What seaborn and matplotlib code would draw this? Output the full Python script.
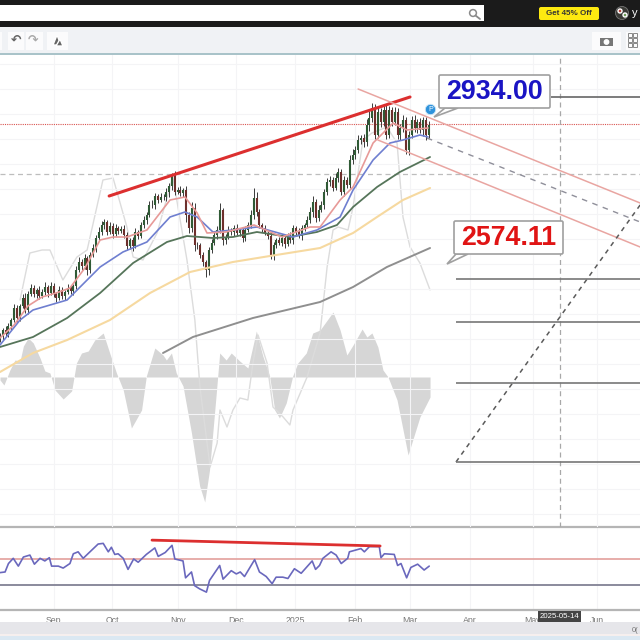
import matplotlib
matplotlib.use('Agg')
import matplotlib.pyplot as plt
from matplotlib.patches import Rectangle, Circle, FancyBboxPatch, Polygon
import seaborn as sns
import numpy as np
import pandas as pd

sns.set_theme(style='whitegrid', rc={'grid.color': '#f4f4f6', 'grid.linewidth': 0.8})
plt.rcParams['font.family'] = ['Liberation Sans', 'DejaVu Sans']

# daily closes, one per session
closes = [2456,2468,2460,2476,2488,2512,2492,2516,2532,2508,
          2540,2552,2540,2548,2536,2544,2554,2542,2556,2540,
          2532,2548,2536,2544,2552,2546,2556,2588,2604,2596,
          2612,2588,2618,2632,2652,2664,2678,2684,2664,2676,
          2660,2672,2666,2670,2658,2636,2648,2636,2664,2656,
          2678,2688,2698,2718,2718,2736,2728,2734,2734,2744,
          2756,2776,2744,2748,2742,2748,2698,2672,2712,2638,
          2638,2618,2604,2588,2628,2642,2658,2668,2708,2648,
          2654,2668,2664,2672,2662,2668,2652,2668,2678,2698,
          2732,2704,2678,2672,2662,2656,2616,2638,2648,2642,
          2652,2640,2656,2648,2672,2664,2656,2672,2678,2688,
          2704,2724,2692,2708,2718,2744,2764,2768,2752,2772,
          2784,2744,2768,2758,2808,2818,2828,2848,2852,2844,
          2878,2892,2912,2858,2904,2884,2908,2858,2908,2884,
          2904,2858,2872,2888,2828,2858,2888,2872,2884,2868,
          2888,2858,2878]
wick_up = [6,4,8,6,4,8,6,4,8,10,6,8,6,4,8,6,10,4,8,6,
           4,8,6,4,8,6,4,8,10,6,8,4,6,8,6,10,8,6,4,8,
           6,8,4,6,8,6,4,6,8,4,6,8,6,8,10,6,4,8,6,8,
           6,6,10,6,8,4,8,6,12,10,6,4,6,4,6,8,6,8,14,4,
           6,8,4,6,8,4,6,8,6,10,20,12,6,4,6,4,8,6,4,6,
           8,4,6,8,6,4,8,6,4,8,10,12,6,10,8,6,8,8,6,10,
           8,6,8,6,10,12,8,10,6,8,12,14,10,8,10,8,10,12,8,6,
           10,8,8,10,6,8,8,10,6,8,6,6,8]
wick_dn = [6,8,4,6,8,4,8,6,4,6,8,4,6,8,6,4,6,8,4,6,
           8,4,6,8,4,6,8,6,4,8,6,10,6,4,8,4,6,8,6,4,
           8,4,6,4,6,8,6,10,4,6,4,6,8,4,6,8,6,4,6,8,
           10,8,6,4,6,8,14,10,8,12,8,6,8,14,10,6,4,8,6,10,
           8,4,6,8,4,6,8,6,4,6,8,8,6,8,4,6,6,8,6,4,
           6,8,4,6,8,6,4,8,6,4,6,10,8,6,4,8,6,8,6,4,
           8,6,8,6,6,8,8,6,8,10,8,12,8,8,6,10,8,8,6,8,
           6,8,10,8,8,10,6,8,10,6,12,10,6]

red_x = [0,5,9.9,14.9,19.9,24.8,30.1,35.5,40.1,45,52.1,60.3,65.6,69.9,73.4,80.1,90.1,100,109.9,113.5,120.6,125.2,132.3,139.4,144.3,151.8]
red_y = [2452,2478,2516,2534,2542,2552,2592,2648,2654,2654,2668,2728,2734,2702,2662,2664,2678,2654,2674,2674,2728,2754,2842,2882,2868,2872]
blue_x = [0,7.1,11.7,23.8,35.5,43.6,52.1,60.3,65.6,69.9,75.5,82.6,91.1,103.9,112.4,120.6,125.2,132.3,138.3,142.9,148.9,151.8]
blue_y = [2438,2488,2508,2528,2594,2624,2644,2694,2704,2694,2664,2668,2674,2654,2668,2694,2748,2808,2842,2848,2858,2854]
green_x = [0,11.7,23.8,35.5,47.2,59.2,66.3,75.5,82.6,91.1,102.8,112.4,119.5,125.2,133.7,141.8,152.5]
green_y = [2434,2454,2492,2542,2602,2644,2656,2652,2654,2664,2654,2664,2678,2714,2754,2784,2814]
orange_x = [0,11.7,23.8,39,53.2,67.4,82.6,95.7,113.5,125.2,133.7,142.9,152.5]
orange_y = [2384,2422,2448,2488,2542,2584,2604,2616,2632,2662,2694,2728,2752]
gray_x = [57.8,68.4,89.7,113.5,125.2,137.2,152.5]
gray_y = [2422,2454,2492,2524,2554,2594,2632]

# oscillator on its own scale
osc_x = [7.1,10.6,14.9,17.7,22.3,27.3,30.9,36.5,40.1,45,47.2,50.7,55.7,61.3,66.3,69.1,70.9,74.5,77,78,80.5,82.6,85.1,87.9,89.7,91.5,94.7,96.8,100.4,102.8,103.9,108.9,113.5,116,118.1,119.9,123.4,125.2,128.7,131.9,137.2,140.8,142.9,145.4,148.9,152.5]
osc_y = [77,124,127,127,97,120,127,197,199,150,120,117,144,200,117,57,-10,-90,-66,-33,-50,-33,-21,-23,14,42,14,-30,-40,-48,-33,0,44,110,147,150,147,170,237,244,250,234,160,130,114,87]
hist_x = [0,1.4,3.5,5.3,7.1,8.3,10,11.8,14.2,15.9,17.7,19.5,22.4,25.4,27.1,28.9,31.3,33.6,36.6,38.9,41.3,43.7,46.6,50.2,51.9,54.9,57.8,59,60.8,62.5,64.9,67.9,70.8,72.6,74.3,76.7,77.9,80.2,82,85,87.9,90.9,93.2,95.6,97.4,99.1,101.5,103.8,105.6,108.6,110.9,113.5,118.1,120.6,123,125.2,128.4,130.1,131.9,134,135.8,137.6,140.8,144.7,148.9,152.5]
hist_y = [-3,-8,7,17,16,31,39,34,19,6,4,-13,-22,-14,14,24,26,37,44,24,4,-13,-51,-33,1,29,22,17,24,4,-9,-56,-109,-125,-93,-16,24,17,24,16,9,46,21,1,-33,-41,-26,1,14,24,44,47,65,47,22,32,48,40,44,30,7,0,-23,-78,-40,-20]

rsi_x = [0,1.8,3,4.7,6.5,8.3,10.6,12.2,14.2,15.9,17.5,18.3,20.7,22.4,24.8,26,27.7,29.5,31.9,34.8,36.6,38.4,39.5,40.7,41.9,43.7,45.4,47.4,49,51.9,54.9,56.1,58.6,61,62,64.9,65.8,67.9,69,70.8,73.2,74.3,77.9,79.1,82,83.8,85.2,86.7,90.3,92,94.4,96.5,97.9,100.3,102.1,104.4,106.8,110.7,111.9,113.3,114.5,117.4,119.2,121,123.3,123.9,128,129.2,131,134.5,135.1,136.3,139.8,141,142.2,144.2,145.7,148.1,150.4,152.2]
rsi_y = [49,50,63,71,59,73,76,62,71,67,72,59,59,56,63,78,81,71,81,93,94,81,88,77,78,71,54,70,65,77,87,74,80,91,70,67,41,50,29,24,19,37,60,39,52,47,50,43,69,50,43,32,42,42,40,55,48,67,54,60,71,81,76,63,71,81,86,81,89,89,72,78,77,60,63,41,57,62,53,59]

fib_levels = [2570, 2484, 2362, 2204]
fib_top = 2934
tick_pos = [19.1, 39.7, 63.1, 83.7, 104.6, 125.9, 145.4, 166.7, 189, 211.7]
tick_labels = ['Sep', 'Oct', 'Nov', 'Dec', '2025', 'Feb', 'Mar', 'Apr', 'May', 'Jun']

trend_x, trend_y = [38.7, 145.4], [2736, 2934]
upper_x, upper_y = [127, 227], [2950, 2722]
lower_x, lower_y = [134, 227], [2848, 2634]
mid_x, mid_y = [151.4, 227], [2852, 2684]
diag_x, diag_y = [161.7, 227], [2204, 2718]
rsi_trend_x, rsi_trend_y = [53.9, 134.8], [99, 90]

W = 640
x_max = W / 2.82


def frac(top, bottom):
    return [0, 1 - bottom / W, 1, (bottom - top) / W]


fig = plt.figure(figsize=(6.4, 6.4), dpi=100, facecolor='white')
ax = fig.add_axes(frac(54, 527))
ax.set_xlim(0, x_max)
ax.set_ylim(2074, 3020)
ax_osc = ax.twinx()
ax_osc.set_ylim(-150, 323)
ax_osc.grid(False)
ax_osc.set_yticks([])
ax.set_zorder(ax_osc.get_zorder() + 1)
ax.patch.set_visible(False)
ax_osc.patch.set_facecolor('white')
ax.set_xticks(tick_pos)
ax.set_yticks(np.arange(2100, 3020, 50))
ax.tick_params(labelbottom=False, labelleft=False, length=0)
for a in (ax, ax_osc):
    for s in a.spines.values():
        s.set_visible(False)

# oscillator
ax_osc.fill_between(hist_x, hist_y, 0, color='#d6d6d6', lw=0)
sns.lineplot(x=osc_x, y=osc_y, ax=ax_osc, color='#dcdcdc', lw=1.0, sort=False, errorbar=None)
ax_osc.set_ylabel('')

# candles
df = pd.DataFrame({'close': closes, 'up': wick_up, 'dn': wick_dn})
df['bar'] = df.index
df['open'] = df['close'].shift(1).fillna(df['close'] - 6)
df['high'] = df[['open', 'close']].max(axis=1) + df['up']
df['low'] = df[['open', 'close']].min(axis=1) - df['dn']
df['color'] = np.where(df['close'] >= df['open'], '#2f5a35', '#6d2f2c')
ax.vlines(df['bar'], df['low'], df['high'], colors='#3a3a3a', lw=0.7, zorder=3)
ax.vlines(df['bar'], df['open'], df['close'], colors=df['color'], lw=1.5, zorder=3)

# moving averages
for xs, ys, col, lw in [(gray_x, gray_y, '#8f8f8f', 1.4), (orange_x, orange_y, '#f6d9a0', 1.5),
                        (green_x, green_y, '#56755a', 1.3), (blue_x, blue_y, '#6f7fd0', 1.2),
                        (red_x, red_y, '#e79a98', 1.2)]:
    sns.lineplot(x=xs, y=ys, ax=ax, color=col, lw=lw, sort=False, errorbar=None, zorder=4)

# guide lines
ax.axhline(2881, color='#d9534f', lw=0.8, ls=(0, (1, 1)), zorder=2)
ax.axhline(2781, color='#bdbdbd', lw=0.9, ls=(0, (4, 3)), zorder=2)
ax.axvline(198.6, color='#a8a8a8', lw=0.9, ls=(0, (4, 3)), zorder=2)
sns.lineplot(x=trend_x, y=trend_y, ax=ax, color='#dc2f2f', lw=2.2, zorder=5, errorbar=None)
sns.lineplot(x=upper_x, y=upper_y, ax=ax, color='#e9a5a1', lw=1.1, zorder=5, errorbar=None)
sns.lineplot(x=lower_x, y=lower_y, ax=ax, color='#e9a5a1', lw=1.1, zorder=5, errorbar=None)
ax.plot(mid_x, mid_y, color='#8f8f9a', lw=1.0, ls=(0, (4, 4)), zorder=5)
ax.plot(diag_x, diag_y, color='#5a5a5a', lw=1.1, ls=(0, (3, 3)), zorder=5)
ax.hlines(fib_levels, 161.7, x_max, color='#777777', lw=1.2, zorder=5)
ax.hlines(fib_top, 195.4, x_max, color='#666666', lw=1.2, zorder=5)
ax.set_xlim(0, x_max)

# rsi panel
ax_rsi = fig.add_axes(frac(527, 610))
ax_rsi.set_xlim(0, x_max)
ax_rsi.set_ylim(-8.5, 119.2)
ax_rsi.set_xticks(tick_pos)
ax_rsi.set_xticklabels(tick_labels, fontsize=6.3, color='#777777')
ax_rsi.set_yticks([])
ax_rsi.tick_params(axis='x', length=2, color='#999999', pad=2)
ax_rsi.axhline(70, color='#e3a09c', lw=1.2)
ax_rsi.axhline(30, color='#8a8a9c', lw=1.4)
sns.lineplot(x=rsi_x, y=rsi_y, ax=ax_rsi, color='#6a68bd', lw=1.2, sort=False, errorbar=None, zorder=3)
sns.lineplot(x=rsi_trend_x, y=rsi_trend_y, ax=ax_rsi, color='#dc2f2f', lw=2.0, errorbar=None, zorder=4)
ax_rsi.set_xlim(0, x_max)
for name, s in ax_rsi.spines.items():
    s.set_visible(name in ('top', 'bottom'))
    s.set_color('#b5b5b5')
    s.set_linewidth(1.6)

# page around the chart, in pixels
ov = fig.add_axes([0, 0, 1, 1], zorder=20)
ov.set_xlim(0, W)
ov.set_ylim(W, 0)
ov.axis('off')
ov.patch.set_visible(False)


def box(x0, y0, x1, y1, col, z=1, ec='none', lw=0):
    ov.add_patch(Rectangle((x0, y0), x1 - x0, y1 - y0, fc=col, ec=ec, lw=lw, zorder=z))


box(0, 0, 640, 5, '#1b1b1b')
box(320, 0, 640, 26, '#1b1b1b')
box(0, 5, 484, 21, 'white', z=2)
box(0, 21, 640, 27, '#1b1b1b')
box(0, 27, 640, 53, '#f0f2f5')
box(0, 53, 640, 54.5, '#a9c3c9')
ov.add_patch(Circle((473, 13), 3.4, fc='none', ec='#8a8a8a', lw=1.1, zorder=3))
ov.plot([475.5, 480], [15.5, 19], color='#8a8a8a', lw=1.3, zorder=3)
ov.add_patch(FancyBboxPatch((539, 7), 60, 13, boxstyle='round,pad=0,rounding_size=2', fc='#fde910', ec='none', zorder=3))
ov.text(569, 13.7, 'Get 45% Off', ha='center', va='center', fontsize=5.8, fontweight='bold', color='#333333', zorder=4)
ov.add_patch(Circle((622, 13), 6.5, fc='#3a3a36', ec='#777777', lw=0.6, zorder=3))
ov.add_patch(Circle((620, 11), 2, fc='#b8433a', zorder=4))
ov.add_patch(Circle((625, 15), 2, fc='#6f9a58', zorder=4))
ov.text(635, 13, 'y', ha='center', va='center', fontsize=8, color='white', zorder=4)

for x0, x1 in [(0, 2), (8, 24), (26, 43), (47, 68), (592, 621), (626, 640)]:
    box(x0, 32, x1, 49.5, '#fbfbfc', z=2)
ov.text(16, 40.5, '↶', ha='center', va='center', fontsize=9, color='#666666', fontweight='bold', zorder=3)
ov.text(33, 40.5, '↷', ha='center', va='center', fontsize=9, color='#aaaaaa', fontweight='bold', zorder=3)
ov.add_patch(Polygon([[57, 35], [53, 45], [61, 45]], fc='#666666', zorder=3))
ov.add_patch(Polygon([[60, 39], [56, 46], [63, 46]], fc='#666666', zorder=3))
box(600, 38, 613, 46, '#777777', z=3)
ov.add_patch(Circle((606.5, 42), 2.2, fc='white', zorder=4))
for gx in (630, 635):
    for gy in (35, 40, 45):
        box(gx - 1.8, gy - 1.8, gx + 1.8, gy + 1.8, 'none', z=3, ec='#888888', lw=0.7)

# bottom strip
box(0, 622, 640, 634, '#e6e6ea')
box(0, 634, 640, 636, '#f6efee')
box(0, 636, 640, 640, '#dbe8f2')
ov.text(632, 630, '0(', ha='left', va='center', fontsize=5.5, color='#777777', zorder=3)
box(538, 610.5, 581, 622, '#444444', z=5)
ov.text(559.5, 616.5, '2025-05-14', ha='center', va='center', fontsize=5.6, color='white', zorder=6)

# price callouts
for (x0, y0, x1, y1), tip, base, txt, col in [
    ((439, 75, 550, 108), (434, 117), [(445, 108), (458, 108)], '2934.00', '#1a14c4'),
    ((454, 221, 563, 254), (447, 264), [(456, 254), (468, 254)], '2574.11', '#e01414'),
]:
    ov.add_patch(Polygon([tip, base[0], base[1]], fc='white', ec='#a0a0a0', lw=1.2, zorder=6))
    ov.add_patch(FancyBboxPatch((x0, y0), x1 - x0, y1 - y0, boxstyle='round,pad=0,rounding_size=1.5',
                                fc='white', ec='#a0a0a0', lw=1.2, zorder=7))
    ov.text((x0 + x1) / 2, (y0 + y1) / 2 + 0.5, txt, ha='center', va='center', fontsize=19.3,
            fontweight='bold', color=col, zorder=8)
ov.add_patch(Circle((430.5, 109.5), 5.2, fc='#2f93dc', ec='#cfe6f5', lw=0.6, zorder=7))
ov.text(430.5, 109.7, 'P', ha='center', va='center', fontsize=5, color='white', zorder=8)

fig.savefig('out.png', dpi=100)
